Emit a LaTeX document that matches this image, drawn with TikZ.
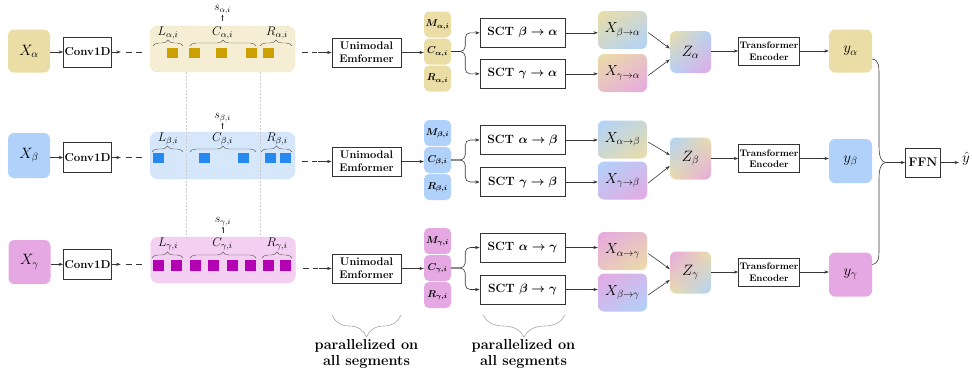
\RequirePackage{fix-cm}
\documentclass[tikz,border=0pt]{standalone}
\usepackage{fontspec}
\usetikzlibrary{arrows.meta,decorations.pathreplacing,calc,shadings}

\definecolor{tanX}{RGB}{235,221,166}
\definecolor{tanL}{RGB}{246,238,212}
\definecolor{tanS}{RGB}{204,160,0}
\definecolor{bluX}{RGB}{176,210,250}
\definecolor{bluL}{RGB}{214,231,252}
\definecolor{bluS}{RGB}{37,137,240}
\definecolor{pnkX}{RGB}{230,168,226}
\definecolor{pnkL}{RGB}{243,207,241}
\definecolor{pnkS}{RGB}{178,0,178}
\definecolor{linec}{RGB}{55,55,55}

\tikzset{
 arr/.style={draw=linec, line width=0.6pt, -{Stealth[length=4.5pt,width=3.2pt]}},
 sarr/.style={draw=linec, line width=0.4pt, -{Stealth[length=2.5pt,width=2pt]}},
 plain/.style={draw=linec, line width=0.6pt},
 dsh/.style={draw=linec, line width=0.6pt, dash pattern=on 6pt off 4pt},
 wbox/.style={draw=black!80, line width=0.7pt, fill=white, align=center, inner sep=1pt},
 rbox/.style={rounded corners=6pt, minimum width=42pt, minimum height=43pt, inner sep=0pt, font=\fontsize{15}{17}\selectfont},
 xbox/.style={shade, rounded corners=6pt, minimum width=49pt, minimum height=38pt, inner sep=0pt, font=\fontsize{14.5}{16}\selectfont},
 segbox/.style={rounded corners=8pt, minimum width=145pt, minimum height=46pt, inner sep=0pt, line width=0.4pt, dash pattern=on 1.5pt off 1.5pt},
 sqr/.style={minimum width=11pt, minimum height=9.5pt, inner sep=0pt},
 mcr/.style={rounded corners=5pt, minimum width=27pt, minimum height=26pt, inner sep=0pt, font=\fontsize{10}{11}\selectfont\boldmath},
 brc/.style={decorate, decoration={brace, amplitude=6pt}, draw=linec!80, line width=0.45pt},
 seglab/.style={font=\fontsize{12.5}{14}\selectfont, inner sep=0pt},
 slab/.style={font=\fontsize{12}{13}\selectfont, inner sep=0pt},
 vline/.style={draw=gray!40, line width=0.4pt, dash pattern=on 2pt off 1.5pt},
 bigbrc/.style={decorate, decoration={brace, amplitude=22pt, mirror}, draw=gray!70, line width=0.6pt},
 partxt/.style={align=center, font=\fontsize{14.5}{16.5}\selectfont\bfseries},
 sctbox/.style={wbox, minimum width=85pt, minimum height=29pt, font=\fontsize{12}{14}\selectfont\bfseries\boldmath},
 emfbox/.style={wbox, minimum width=69pt, minimum height=29pt, font=\fontsize{11}{13}\selectfont\bfseries},
 tebox/.style={wbox, minimum width=60pt, minimum height=28pt, font=\fontsize{9.5}{11.5}\selectfont\bfseries},
 convbox/.style={wbox, minimum width=47pt, minimum height=30pt, font=\fontsize{11.5}{12}\selectfont\bfseries},
}

\begin{document}
\begin{tikzpicture}[x=1pt,y=-1pt]
\useasboundingbox (0,0) rectangle (972,376);

% ---------------- left part: inputs, conv, segments ----------------
% alpha
\node[rbox, fill=tanX] (xa) at (29,51) {$X_\alpha$};
\node[convbox] (ca) at (87.5,52) {Conv1D};
\node[segbox, fill=tanL, draw=tanS!40] (sa) at (222.5,49) {};
% beta
\node[rbox, fill=bluX, minimum height=45pt] (xb) at (29,155.5) {$X_\beta$};
\node[convbox] (cb) at (87.5,157.5) {Conv1D};
\node[segbox, fill=bluL, draw=bluS!30, minimum height=47pt] (sb) at (222.5,155.5) {};
% gamma
\node[rbox, fill=pnkX, minimum height=44pt] (xg) at (29.5,262) {$X_\gamma$};
\node[convbox] (cg) at (87.5,264.3) {Conv1D};
\node[segbox, fill=pnkL, draw=pnkS!25] (sg) at (223,260) {};

% dotted guide lines
\draw[vline] (186,72) -- (186,237);
\draw[vline] (260,72) -- (260,237);

% squares alpha
\foreach \x/\n in {172/1,194.5/2,221/3,251/4,268/5}
  \node[sqr, fill=tanS] (qa\n) at (\x,53) {};
% squares beta
\foreach \x/\n in {158.3/1,204.3/2,243.2/3,270/4,285.2/5}
  \node[sqr, fill=bluS, minimum height=10pt] (qb\n) at (\x,158) {};
% squares gamma
\foreach \x/\n in {158.5/1,176.7/2,195.5/3,213.8/4,232.2/5,250.5/6,268.8/7,285.5/8}
  \node[sqr, fill=pnkS, minimum height=10.5pt] (qg\n) at (\x,265.5) {};

% braces and labels (alpha, top 26)
\draw[brc] (153,46) -- (183,46);
\draw[brc] (190,46) -- (256,46);
\draw[brc] (260,46) -- (292,46);
\node[seglab] (la) at (168,33.5) {$L_{\alpha,i}$};
\node[seglab] (cla) at (222.5,33.5) {$C_{\alpha,i}$};
\node[seglab] (ra) at (277,33.5) {$R_{\alpha,i}$};
\node[slab] (ssa) at (222.5,10) {$s_{\alpha,i}$};
\draw[sarr] ($(ssa.south)+(0,7)$) -- (ssa.south);

% beta (top 132)
\draw[brc] (152,152) -- (183,152);
\draw[brc] (190,152) -- (256,152);
\draw[brc] (261,152) -- (292,152);
\node[seglab] (lb) at (168,139) {$L_{\beta,i}$};
\node[seglab] (clb) at (222.5,139) {$C_{\beta,i}$};
\node[seglab] (rb) at (277,139) {$R_{\beta,i}$};
\node[slab] (ssb) at (222.5,118) {$s_{\beta,i}$};
\draw[sarr] ($(ssb.south)+(0,7)$) -- (ssb.south);

% gamma (top 237)
\draw[brc] (152,258) -- (183,258);
\draw[brc] (190,258) -- (256,258);
\draw[brc] (262,258) -- (292,258);
\node[seglab] (lg) at (168,244) {$L_{\gamma,i}$};
\node[seglab] (clg) at (222.5,244) {$C_{\gamma,i}$};
\node[seglab] (rg) at (277,244) {$R_{\gamma,i}$};
\node[slab] (ssg) at (223,222) {$s_{\gamma,i}$};
\draw[sarr] ($(ssg.south)+(0,7)$) -- (ssg.south);

% ---------------- Emformer and M/C/R ----------------
\node[emfbox] (ea) at (366.5,52.5) {Unimodal\\Emformer};
\node[emfbox] (eb) at (366.5,161.5) {Unimodal\\Emformer};
\node[emfbox] (eg) at (366.5,268.5) {Unimodal\\Emformer};

\node[mcr, fill=tanX] (ma) at (437.5,24.5) {$M_{\alpha,i}$};
\node[mcr, fill=tanX] (cca) at (437.5,51.5) {$C_{\alpha,i}$};
\node[mcr, fill=tanX] (rra) at (437.5,78.5) {$R_{\alpha,i}$};
\node[mcr, fill=bluX] (mb) at (437.5,133) {$M_{\beta,i}$};
\node[mcr, fill=bluX] (ccb) at (437.5,160) {$C_{\beta,i}$};
\node[mcr, fill=bluX] (rrb) at (437.5,187) {$R_{\beta,i}$};
\node[mcr, fill=pnkX] (mg) at (437.5,241) {$M_{\gamma,i}$};
\node[mcr, fill=pnkX] (ccg) at (437.5,268) {$C_{\gamma,i}$};
\node[mcr, fill=pnkX] (rrg) at (437.5,295) {$R_{\gamma,i}$};

% ---------------- SCT ----------------
\node[sctbox] (t1) at (522.5,32.8) {SCT $\beta\rightarrow\alpha$};
\node[sctbox] (t2) at (522.5,73.8) {SCT $\gamma\rightarrow\alpha$};
\node[sctbox] (t3) at (522.5,140) {SCT $\alpha\rightarrow\beta$};
\node[sctbox] (t4) at (522.5,182) {SCT $\gamma\rightarrow\beta$};
\node[sctbox] (t5) at (522.5,247.5) {SCT $\alpha\rightarrow\gamma$};
\node[sctbox] (t6) at (522.5,289.5) {SCT $\beta\rightarrow\gamma$};

% ---------------- cross-modal outputs ----------------
\node[xbox, upper left=tanX, lower right=bluX, upper right=tanX!55!bluX, lower left=tanX!45!bluX] (xba) at (622.5,30) {$X_{\beta\rightarrow\alpha}$};
\node[xbox, upper left=tanX, lower right=pnkX, upper right=tanX!55!pnkX, lower left=tanX!45!pnkX] (xga) at (622.5,73) {$X_{\gamma\rightarrow\alpha}$};
\node[xbox, upper left=bluX, lower right=tanX, upper right=bluX!55!tanX, lower left=bluX!45!tanX] (xab) at (622.5,139.5) {$X_{\alpha\rightarrow\beta}$};
\node[xbox, upper left=bluX, lower right=pnkX, upper right=bluX!55!pnkX, lower left=bluX!45!pnkX] (xgb) at (622.5,180.5) {$X_{\gamma\rightarrow\beta}$};
\node[xbox, upper left=pnkX, lower right=tanX, upper right=pnkX!55!tanX, lower left=pnkX!45!tanX] (xag) at (622.5,251) {$X_{\alpha\rightarrow\gamma}$};
\node[xbox, upper left=pnkX, lower right=bluX, upper right=pnkX!55!bluX, lower left=pnkX!45!bluX] (xbg) at (622.5,292.5) {$X_{\beta\rightarrow\gamma}$};

% ---------------- Z, TE, y ----------------
\node[rbox, shade, minimum width=41pt, minimum height=42pt, upper left=tanX, upper right=bluX, lower left=bluX, lower right=pnkX] (za) at (690.5,52) {$Z_\alpha$};
\node[rbox, shade, minimum width=41pt, minimum height=42pt, upper left=bluX, upper right=tanX, lower left=tanX, lower right=pnkX] (zb) at (690.5,158.5) {$Z_\beta$};
\node[rbox, shade, minimum width=41pt, minimum height=42pt, upper left=pnkX, upper right=tanX, lower left=tanX, lower right=bluX] (zg) at (690.5,272.5) {$Z_\gamma$};

\node[tebox] (ta) at (769,51) {Transformer\\Encoder};
\node[tebox] (tb) at (769,158.5) {Transformer\\Encoder};
\node[tebox] (tg) at (769,272) {Transformer\\Encoder};

\node[rbox, fill=tanX, minimum width=43pt] (ya) at (850.5,51) {$y_\alpha$};
\node[rbox, fill=bluX, minimum width=43pt, minimum height=44pt] (yb) at (850.5,161) {$y_\beta$};
\node[rbox, fill=pnkX, minimum width=43pt, minimum height=44pt] (yg) at (850.5,274.5) {$y_\gamma$};

\node[wbox, minimum width=35pt, minimum height=29pt, font=\fontsize{12.5}{13}\selectfont\bfseries] (ffn) at (923,162.5) {FFN};
\node[font=\fontsize{15}{17}\selectfont, inner sep=0pt] (yh) at (966,159) {$\hat{y}$};
\coordinate (mrg) at (886,162.5);

% ---------------- connectors ----------------
\foreach \x/\c/\s in {xa/ca/sa, xb/cb/sb, xg/cg/sg}{
  \draw[arr] (\x.east |- \c) -- (\c.west);
  \draw[arr] (\c.east) -- ($(\c.east)+(9,0)$);
  \draw[dsh] ($(\c.east)+(14,0)$) -- ($(\s.west |- \c)+(-6,0)$);
}
\foreach \s/\e in {sa/ea, sb/eb, sg/eg}{
  \draw[dsh] ($(\s.east |- \e)+(7,0)$) -- ($(\s.east |- \e)+(22,0)$);
  \draw[arr] ($(\s.east |- \e)+(23,0)$) -- (\e.west);
}
\foreach \e/\c in {ea/cca, eb/ccb, eg/ccg}
  \draw[arr] (\e.east) -- (\c.west |- \e);

\foreach \c/\p/\q in {cca/t1/t2, ccb/t3/t4, ccg/t5/t6}{
  \draw[arr, rounded corners=5pt] (\c.east) -- ($(\c.east)+(14,0)$) |- (\p.west);
  \draw[arr, rounded corners=5pt] (\c.east) -- ($(\c.east)+(14,0)$) |- (\q.west);
}
\foreach \t/\x in {t1/xba, t2/xga, t3/xab, t4/xgb, t5/xag, t6/xbg}
  \draw[arr] (\t.east) -- (\x.west |- \t);

\foreach \p/\q/\z in {xba/xga/za, xab/xgb/zb, xag/xbg/zg}{
  \draw[arr] ($(\p.east)+(1,2.5)$) -- ($(\z.west)+(0,-3.5)$);
  \draw[arr] ($(\q.east)+(1,2.5)$) -- ($(\z.west)+(0,7.5)$);
}
\foreach \z/\t/\y in {za/ta/ya, zb/tb/yb, zg/tg/yg}{
  \draw[arr] (\z.east |- \t) -- (\t.west);
  \draw[arr] (\t.east) -- (\y.west |- \t);
}

% merge into FFN
\draw[plain] ($(ya.east)+(0,8)$) .. controls (879,60) and (879,66) .. (879,76) -- (879,146) .. controls (879,156) and (881,162.5) .. (mrg);
\draw[plain] ($(yg.east)+(0,-10)$) .. controls (879,263) and (879,258) .. (879,248) -- (879,179) .. controls (879,169) and (881,162.5) .. (mrg);
\draw[arr] (mrg) -- (ffn.west);
\draw[arr] (ffn.east) -- ($(yh.west |- ffn.east)+(-3,0)$);

% bottom braces
\coordinate (bl1) at (332,315);
\coordinate (br1) at (401,315);
\coordinate (bl2) at (483,315);
\coordinate (br2) at (565,315);
\draw[bigbrc] (bl1) -- (br1);
\draw[bigbrc] (bl2) -- (br2);
\node[partxt] (p1) at (366.5,354) {parallelized on\\all segments};
\node[partxt] (p2) at (523.5,354) {parallelized on\\all segments};
\end{tikzpicture}
\end{document}
